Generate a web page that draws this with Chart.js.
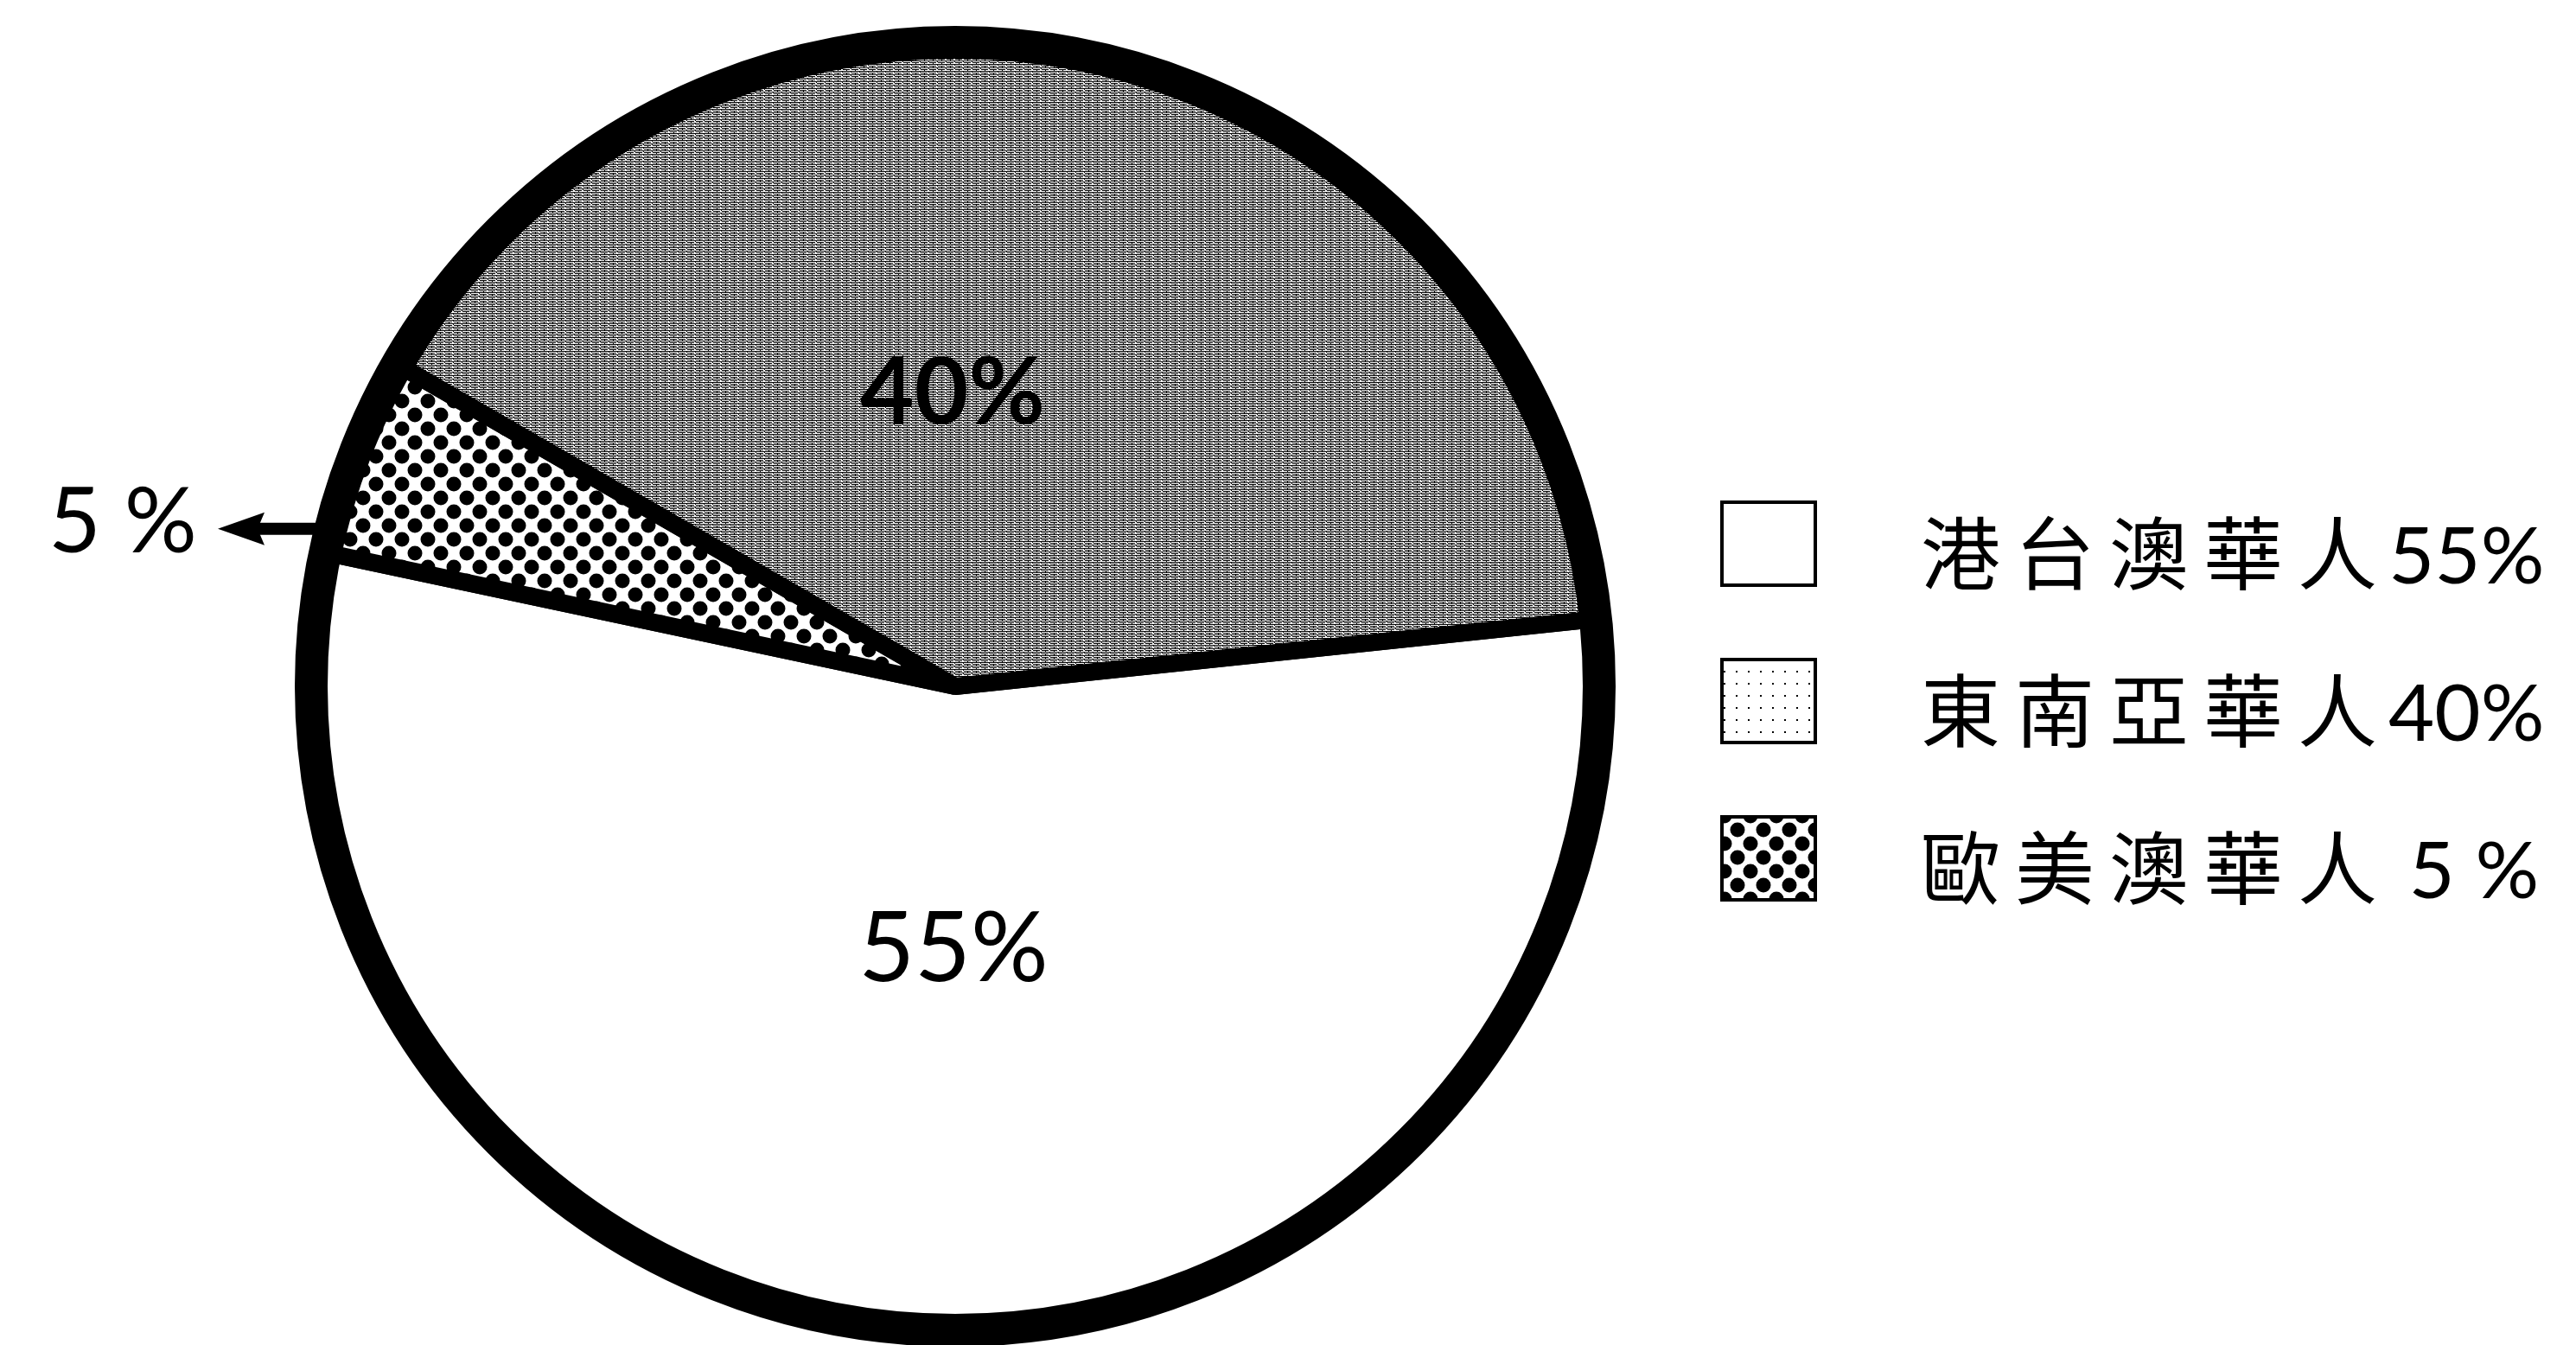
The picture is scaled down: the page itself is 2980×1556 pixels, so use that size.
<!DOCTYPE html>
<html lang="zh-Hant">
<head>
<meta charset="utf-8">
<title>華人比例</title>
<script src="https://cdn.jsdelivr.net/npm/chart.js@4.4.1/dist/chart.umd.min.js"></script>
<style>
  html, body { margin: 0; padding: 0; background: #fff; }
  canvas { display: block; }
</style>
</head>
<body>
<canvas id="pie" width="2980" height="1556"></canvas>
<script>
// slices in drawing order (clockwise from the right)
const categories = ['港台澳華人', '歐美澳華人', '東南亞華人'];
const values = [55, 5, 40];
const sliceLabels = ['55%', '5 %', '40%'];
// legend rows, top to bottom (index into categories) and their percent texts
const legendOrder = [0, 2, 1];
const legendPcts = ['55%', '40%', ' 5 %'];

const LATIN = 'Lato, "Noto Sans CJK TC", sans-serif';

function makeTile(w, h, paint) {
  const c = document.createElement('canvas');
  c.width = w;
  c.height = h;
  paint(c.getContext('2d'), w, h);
  return c;
}

const ctx = document.getElementById('pie').getContext('2d');

// halftone grey: black rows broken by long white dashes
const greyPattern = ctx.createPattern(makeTile(10, 4, g => {
  g.fillStyle = '#000';
  g.fillRect(0, 0, 10, 4);
  g.fillStyle = '#fff';
  g.fillRect(0, 1, 9, 1);
  g.fillRect(5, 3, 9, 1);
  g.fillRect(-5, 3, 9, 1);
  g.fillRect(3, 0, 2, 1);
}), 'repeat');

// staggered black dots
const dotPattern = ctx.createPattern(makeTile(30, 32, g => {
  g.fillStyle = '#fff';
  g.fillRect(0, 0, 30, 32);
  g.fillStyle = '#000';
  [[0, 0], [30, 0], [0, 32], [30, 32], [15, 16]].forEach(([cx, cy]) => {
    g.beginPath();
    g.arc(cx, cy, 8.5, 0, Math.PI * 2);
    g.fill();
  });
}), 'repeat');

// very light speckle for the legend swatch of the grey slice
const lightPattern = ctx.createPattern(makeTile(14, 14, g => {
  g.fillStyle = '#fff';
  g.fillRect(0, 0, 14, 14);
  g.fillStyle = '#000';
  g.fillRect(6, 6, 2, 2);
}), 'repeat');

const sliceFills = ['#ffffff', dotPattern, greyPattern];
const legendFills = ['#ffffff', dotPattern, lightPattern];

const decorations = {
  id: 'decorations',
  afterDatasetsDraw(chart) {
    const c = chart.ctx;
    const arcs = chart.getDatasetMeta(0).data;
    const { x, y, outerRadius: r } = arcs[0];
    c.save();

    // heavy outer rim
    c.beginPath();
    c.arc(x, y, r, 0, Math.PI * 2);
    c.lineWidth = 38;
    c.strokeStyle = '#000';
    c.stroke();

    // labels inside the two big slices
    c.fillStyle = '#000';
    c.textAlign = 'center';
    c.textBaseline = 'alphabetic';
    c.font = '400 112px ' + LATIN;
    c.fillText(sliceLabels[0], x - 2, y + r * 0.458);
    c.font = '700 108px ' + LATIN;
    c.fillText(sliceLabels[2], x - 3, y - r * 0.408);

    // arrow out of the small slice, with its label
    const small = arcs[1];
    const a = small.startAngle + (small.endAngle - small.startAngle) * 0.12;
    const ax = x + r * Math.cos(a);
    const ay = y + r * Math.sin(a);
    const tip = 252;
    c.lineWidth = 14;
    c.beginPath();
    c.moveTo(ax, ay);
    c.lineTo(tip + 44, ay);
    c.stroke();
    c.beginPath();
    c.moveTo(tip, ay);
    c.lineTo(tip + 54, ay - 19);
    c.lineTo(tip + 46, ay);
    c.lineTo(tip + 54, ay + 19);
    c.closePath();
    c.fill();
    c.textAlign = 'right';
    c.font = '400 105px ' + LATIN;
    c.fillText(sliceLabels[1], tip - 24, ay + 27);

    c.restore();
  },
  afterDraw(chart) {
    const c = chart.ctx;
    const boxX = 1992, boxW = 108, boxH = 96, top0 = 581, step = 182, textX = 2222;
    c.save();
    c.font = '400 92px ' + LATIN;
    c.textAlign = 'left';
    c.textBaseline = 'alphabetic';
    legendOrder.forEach((idx, row) => {
      const top = top0 + row * step;
      c.fillStyle = legendFills[idx];
      c.fillRect(boxX, top, boxW, boxH);
      c.lineWidth = 4;
      c.strokeStyle = '#000';
      c.strokeRect(boxX, top, boxW, boxH);
      c.fillStyle = '#000';
      c.letterSpacing = '17px';
      c.fillText(categories[idx], textX, top + 94);
      const w = c.measureText(categories[idx]).width;
      c.letterSpacing = '0px';
      c.fillText(legendPcts[row], textX + w - 4, top + 94);
    });
    c.restore();
  }
};

new Chart(ctx, {
  type: 'pie',
  data: {
    labels: categories,
    datasets: [{
      data: values,
      backgroundColor: sliceFills,
      borderColor: '#000',
      borderWidth: 20,
      radius: 745
    }]
  },
  options: {
    responsive: false,
    devicePixelRatio: 1,
    animation: false,
    rotation: 84,
    layout: { padding: { top: 32, bottom: 0, left: 0, right: 770 } },
    plugins: {
      legend: { display: false },
      tooltip: { enabled: false }
    }
  },
  plugins: [decorations]
});
</script>
</body>
</html>
